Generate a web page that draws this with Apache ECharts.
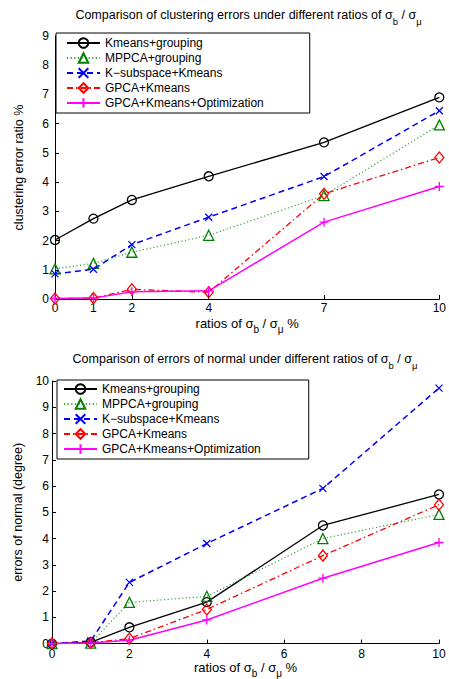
<!DOCTYPE html>
<html>
<head>
<meta charset="utf-8">
<script src="https://cdn.jsdelivr.net/npm/echarts@6/dist/echarts.min.js"></script>
<style>
  html, body { margin: 0; padding: 0; background: #fff; }
  #chart { width: 449px; height: 679px; }
</style>
</head>
<body>
<div id="chart"></div>
<script>
// Noise ratios (sigma_b / sigma_mu, in %)
const ratiosTop = [0, 1, 2, 4, 7, 10];
const ratiosBottom = [0, 1, 2, 4, 7, 10];
const topTicks = [0, 1, 2, 4, 7, 10];

const methodNames = [
  'Kmeans+grouping',
  'MPPCA+grouping',
  'K\u2212subspace+Kmeans',
  'GPCA+Kmeans',
  'GPCA+Kmeans+Optimization'
];

// Clustering error ratio (%)
const kmeansGroupingErr = [2.02, 2.75, 3.39, 4.20, 5.36, 6.90];
const mppcaGroupingErr  = [1.03, 1.22, 1.60, 2.18, 3.54, 5.96];
const kSubspaceErr      = [0.86, 1.02, 1.86, 2.80, 4.19, 6.44];
const gpcaKmeansErr     = [0.02, 0.03, 0.33, 0.23, 3.60, 4.84];
const gpcaOptErr        = [0.02, 0.03, 0.25, 0.28, 2.63, 3.85];

// Errors of normal (degree)
const kmeansGroupingNormal = [0, 0.05, 0.62, 1.58, 4.50, 5.68];
const mppcaGroupingNormal  = [0, 0.02, 1.57, 1.80, 4.00, 4.92];
const kSubspaceNormal      = [0, 0.10, 2.33, 3.81, 5.91, 9.73];
const gpcaKmeansNormal     = [0, 0.03, 0.19, 1.30, 3.35, 5.29];
const gpcaOptNormal        = [0, 0.02, 0.13, 0.90, 2.49, 3.85];

const FONT = '"Liberation Sans", Arial, Helvetica, sans-serif';

const styles = [
  { line: '#000000', mark: '#000000', type: 'solid', width: 1.3, symbol: 'circle', size: 9 },
  { line: '#3a9e3a', mark: '#008000', type: [1.2, 2.4], width: 1.2, symbol: 'triangle', size: 10 },
  { line: '#0000ff', mark: '#0000ff', type: [6, 4], width: 1.5, symbol: 'path://M0,0L10,10M10,0L0,10', size: 7 },
  { line: '#ff0000', mark: '#ff0000', type: [6, 3, 1.5, 3], width: 1.3, symbol: 'diamond', size: [9, 11] },
  { line: '#ff00ff', mark: '#ff00ff', type: 'solid', width: 1.5, symbol: 'path://M5,0L5,10M0,5L10,5', size: 9 }
];

function pairs(xs, ys) {
  return xs.map((x, i) => [x, ys[i]]);
}

function makeSeries(idx, xs, ys, axisIndex) {
  const s = styles[idx];
  return {
    name: methodNames[idx],
    type: 'line',
    xAxisIndex: axisIndex,
    yAxisIndex: axisIndex,
    data: pairs(xs, ys),
    symbol: s.symbol,
    symbolSize: s.size,
    showAllSymbol: true,
    clip: false,
    color: s.mark,
    lineStyle: { color: s.line, width: s.width, type: s.type },
    itemStyle: { color: 'rgba(0,0,0,0)', borderColor: s.mark, borderWidth: 1.3 },
    emphasis: { disabled: true },
    animation: false
  };
}

// Rich styles: normal text plus lowered subscripts
function subRich(size) {
  return {
    n: { fontSize: size, fontFamily: FONT, color: '#000' },
    s: { fontSize: size - 3, fontFamily: FONT, color: '#000', padding: [12, 0, 0, 0] }
  };
}

const ratioName = '{n|ratios of \u03c3}{s|b}{n| / \u03c3}{s|\u03bc}{n| %}';

function legendFor(left, top, padding) {
  return {
    data: methodNames,
    orient: 'vertical',
    left: left,
    top: top,
    padding: padding,
    itemWidth: 33,
    itemHeight: 12,
    itemGap: 3,
    selectedMode: false,
    backgroundColor: '#fff',
    borderColor: '#000',
    borderWidth: 1,
    borderRadius: 0,
    textStyle: { fontSize: 12, fontFamily: FONT, color: '#000' },
    z: 10
  };
}

function valueAxisBase() {
  return {
    type: 'value',
    axisLine: { show: true, onZero: false, lineStyle: { color: '#000', width: 1 } },
    axisTick: { show: true, inside: true, length: 4, lineStyle: { color: '#000' } },
    splitLine: { show: false },
    axisLabel: { fontSize: 12, fontFamily: FONT, color: '#000' }
  };
}

const chart = echarts.init(document.getElementById('chart'), null, { renderer: 'svg' });

const option = {
  backgroundColor: '#fff',
  animation: false,
  textStyle: { fontFamily: FONT },
  grid: [
    { left: 55, right: 7, top: 36, bottom: 380 },
    { left: 52, right: 10, top: 381, bottom: 34 }
  ],
  xAxis: [
    Object.assign(valueAxisBase(), {
      gridIndex: 0, min: 0, max: 10,
      axisTick: { show: true, inside: true, length: 4, lineStyle: { color: '#000' }, customValues: topTicks },
      axisLabel: { fontSize: 12, fontFamily: FONT, color: '#000', margin: 3, customValues: topTicks },
      name: ratioName, nameLocation: 'middle', nameGap: 13,
      nameTextStyle: { rich: subRich(13) }
    }),
    Object.assign(valueAxisBase(), {
      gridIndex: 1, min: 0, max: 10, interval: 2,
      axisLabel: { fontSize: 12, fontFamily: FONT, color: '#000', margin: 4 },
      name: ratioName, nameLocation: 'middle', nameGap: 12,
      nameTextStyle: { rich: subRich(13) }
    })
  ],
  yAxis: [
    Object.assign(valueAxisBase(), {
      gridIndex: 0, min: 0, max: 9, interval: 1,
      axisLabel: { fontSize: 12, fontFamily: FONT, color: '#000', margin: 6 },
      name: 'clustering error ratio %', nameLocation: 'middle', nameGap: 30,
      nameTextStyle: { fontSize: 12.5, fontFamily: FONT, color: '#000' }
    }),
    Object.assign(valueAxisBase(), {
      gridIndex: 1, min: 0, max: 10, interval: 1,
      axisLabel: { fontSize: 12, fontFamily: FONT, color: '#000', margin: 3 },
      name: 'errors of normal (degree)', nameLocation: 'middle', nameGap: 20,
      nameTextStyle: { fontSize: 12.5, fontFamily: FONT, color: '#000' }
    })
  ],
  legend: [
    legendFor(56, 33, [4, 46, 4, 10]),
    legendFor(57, 380, [3, 48, 4, 6])
  ],
  graphic: [
    {
      type: 'text', x: 248.5, y: 15,
      style: {
        text: '{n|Comparison of clustering errors under different ratios of \u03c3}{s|b}{n| / \u03c3}{s|\u03bc}',
        rich: subRich(12.5), align: 'center', verticalAlign: 'middle'
      }
    },
    {
      type: 'text', x: 245, y: 359,
      style: {
        text: '{n|Comparison of errors of normal under different ratios of \u03c3}{s|b}{n| / \u03c3}{s|\u03bc}',
        rich: subRich(12.5), align: 'center', verticalAlign: 'middle'
      }
    }
  ],
  series: [
    makeSeries(0, ratiosTop, kmeansGroupingErr, 0),
    makeSeries(1, ratiosTop, mppcaGroupingErr, 0),
    makeSeries(2, ratiosTop, kSubspaceErr, 0),
    makeSeries(3, ratiosTop, gpcaKmeansErr, 0),
    makeSeries(4, ratiosTop, gpcaOptErr, 0),
    makeSeries(0, ratiosBottom, kmeansGroupingNormal, 1),
    makeSeries(1, ratiosBottom, mppcaGroupingNormal, 1),
    makeSeries(2, ratiosBottom, kSubspaceNormal, 1),
    makeSeries(3, ratiosBottom, gpcaKmeansNormal, 1),
    makeSeries(4, ratiosBottom, gpcaOptNormal, 1)
  ]
};

chart.setOption(option);
</script>
</body>
</html>
